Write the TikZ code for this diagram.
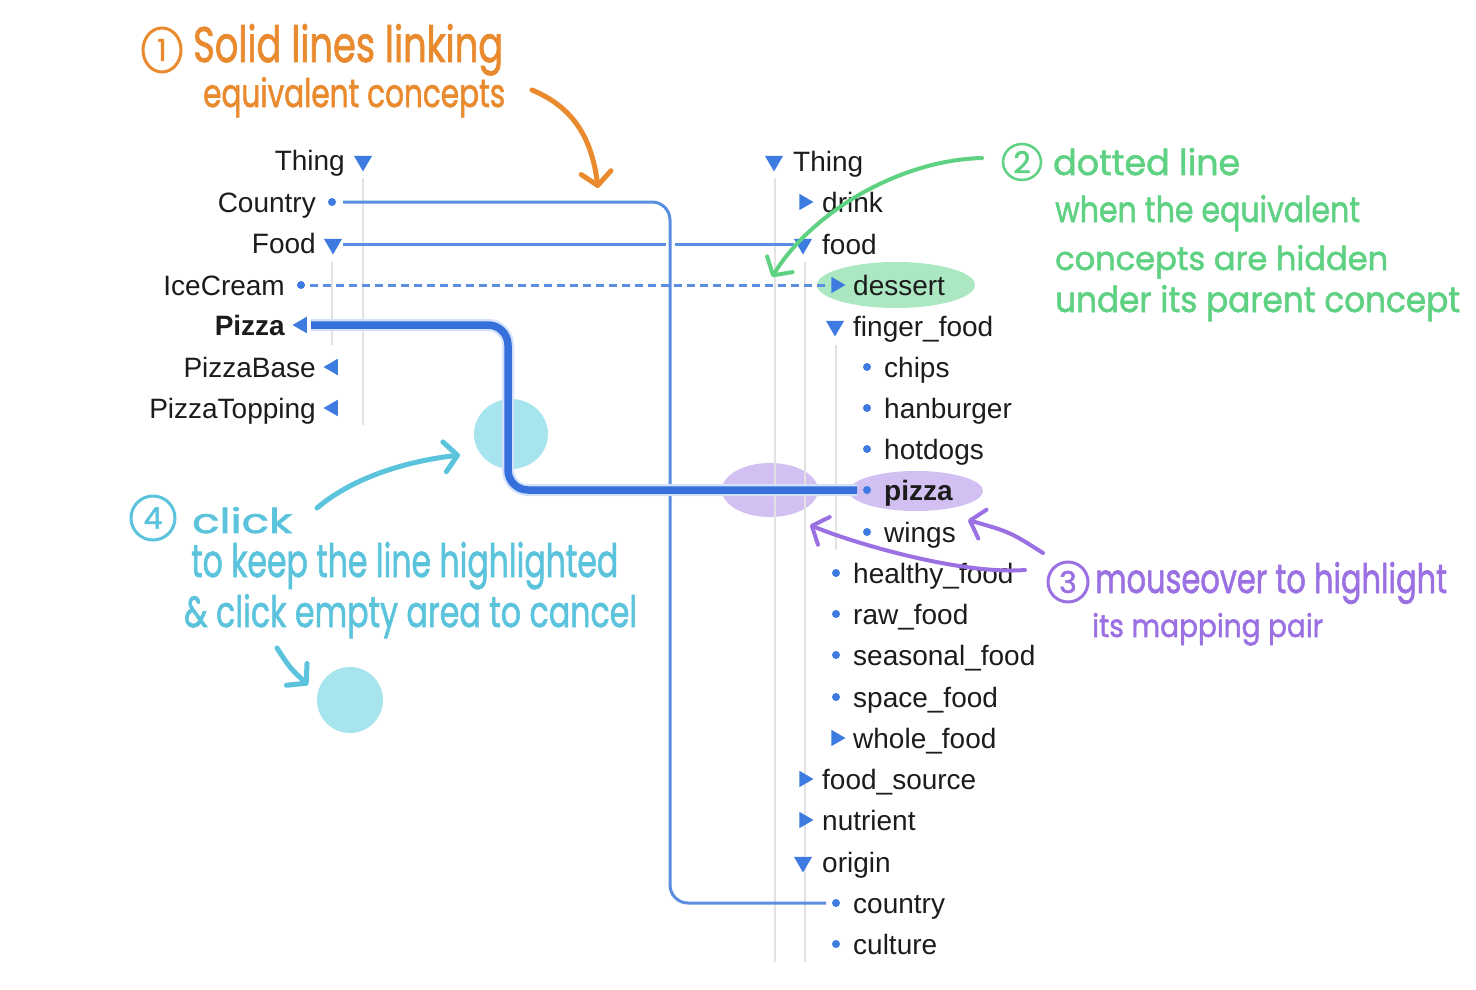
\documentclass[tikz,border=0pt]{standalone}
\usepackage{fontspec}
\setmainfont{Liberation Sans}
\newfontfamily\handfont[FakeBold=1.6]{Poppins}
\usetikzlibrary{shapes.geometric,arrows.meta,calc}
\definecolor{tblue}{HTML}{3D7BE0}
\definecolor{lblue}{HTML}{5B8DE0}
\definecolor{hblue}{HTML}{3570DD}
\definecolor{glowc}{HTML}{D3E2FA}
\definecolor{grayln}{HTML}{E2E2E2}
\definecolor{txt}{HTML}{1C1C1C}
\definecolor{orng}{HTML}{E98A2E}
\definecolor{grn}{HTML}{5FD182}
\definecolor{grnhl}{HTML}{ABE8C2}
\definecolor{purp}{HTML}{9B70E2}
\definecolor{purphl}{HTML}{D2C0F2}
\definecolor{cyn}{HTML}{5BC4DC}
\definecolor{cynhl}{HTML}{A6E5EE}
\newcommand\hw[3]{\resizebox{#1pt}{#2pt}{#3}}
\begin{document}
\begin{tikzpicture}[x=1pt,y=-1pt,
  lbl/.style={font=\fontsize{28}{30}\selectfont, text=txt, inner sep=0pt},
  lblL/.style={lbl, anchor=base east},
  lblR/.style={lbl, anchor=base west},
  dotm/.style={circle, fill=tblue, inner sep=0pt, minimum size=8pt},
  tridown/.style={regular polygon, regular polygon sides=3, shape border rotate=180, fill=tblue, inner sep=0pt, minimum size=21pt},
  triright/.style={regular polygon, regular polygon sides=3, shape border rotate=-90, fill=tblue, inner sep=0pt, minimum size=19pt},
  trileft/.style={regular polygon, regular polygon sides=3, shape border rotate=90, fill=tblue, inner sep=0pt, minimum size=19pt},
  guide/.style={draw=grayln, line width=1.5pt},
  link/.style={draw=lblue, line width=3pt},
  hilink/.style={draw=hblue, line width=7.5pt},
  glow/.style={draw=glowc, line width=12pt},
  hand/.style={font=\handfont\fontsize{30}{30}\selectfont, inner sep=0pt, anchor=base west},
  numc/.style={ellipse, inner sep=0pt, line width=3pt, font=\handfont\fontsize{30}{30}\selectfont},
  ann/.style={line width=4.5pt, line cap=round, line join=round, -{Straight Barb[length=13pt, width=30pt, round]}}
]
\useasboundingbox (0,0) rectangle (1476,990);
\fill[white] (0,0) rectangle (1476,990);

% highlights underneath
\fill[cynhl] (511,434) ellipse [x radius=37pt, y radius=35pt];
\fill[cynhl] (350,700) ellipse [x radius=33pt, y radius=33pt];
\fill[grnhl] (896,285) ellipse [x radius=79pt, y radius=23pt];
\fill[purphl] (916,491) ellipse [x radius=67pt, y radius=20pt];
\fill[purphl] (770,490) ellipse [x radius=48pt, y radius=27pt];

% tree guide lines
\draw[guide] (363,178) -- (363,425);
\draw[guide] (332,262) -- (332,345);
\draw[guide] (775,178) -- (775,962);
\draw[guide] (805,262) -- (805,962);
\draw[guide] (836,345) -- (836,550);

% left tree
\node[lblL] (tThing) at (345,170) {Thing};
\node[tridown] (mThing) at (363,161) {};
\node[lblL] (tCountry) at (316,212) {Country};
\node[dotm] (mCountry) at (332,202) {};
\node[lblL] (tFood) at (316,253) {Food};
\node[tridown] (mFood) at (333,244) {};
\node[lblL] (tIce) at (285,295) {IceCream};
\node[dotm] (mIce) at (301,285) {};
\node[lblL, font=\bfseries\fontsize{28}{30}\selectfont] (tPizza) at (285,335) {Pizza};
\node[trileft] (mPizza) at (302,325) {};
\node[lblL] (tBase) at (316,377) {PizzaBase};
\node[trileft] (mBase) at (333,367) {};
\node[lblL] (tTop) at (316,418) {PizzaTopping};
\node[trileft] (mTop) at (333,408) {};

% right tree
\foreach \n/\mk/\mx/\tx/\y/\t in {
  Thing/tridown/774/793/161/Thing,
  drink/triright/804/822/202/drink,
  food/tridown/803/822/244/food,
  dessert/triright/836/853/285/dessert,
  finger/tridown/835/853/326/finger\_food,
  chips/dotm/867/884/367/chips,
  hanburger/dotm/867/884/408/hanburger,
  hotdogs/dotm/867/884/449/hotdogs,
  wings/dotm/867/884/532/wings,
  healthy/dotm/836/853/573/healthy\_food,
  raw/dotm/836/853/614/raw\_food,
  seasonal/dotm/836/853/655/seasonal\_food,
  space/dotm/836/853/697/space\_food,
  whole/triright/836/853/738/whole\_food,
  source/triright/804/822/779/food\_source,
  nutrient/triright/804/822/820/nutrient,
  origin/tridown/803/822/862/origin,
  country/dotm/836/853/903/country,
  culture/dotm/836/853/944/culture}{
  \node[\mk] (r\n) at (\mx,\y) {};
  \node[lblR] (s\n) at (\tx,\y+10) {\t};
}
\node[dotm] (rpizza) at (867,490) {};
\node[lblR, font=\bfseries\fontsize{28}{30}\selectfont] (spizza) at (884,500) {pizza};

% mapping links
\coordinate (cv) at (670,0);
\coordinate (pv) at (508,0);
\draw[link] ([xshift=10pt]mFood.center) -- ([xshift=-9pt]rfood.center);
\draw[white, line width=9pt] (670,232) -- (670,254);
\draw[link, rounded corners=18pt] ([xshift=11pt]mCountry.center) -| (cv |- rcountry) -- ([xshift=-10pt]rcountry.center);
\draw[link, dash pattern=on 8pt off 5pt] ([xshift=9pt]mIce.center) -- ([xshift=-8pt]rdessert.center);
\draw[glow, rounded corners=20pt] ([xshift=9pt]mPizza.center) -| (pv |- rpizza) -- ([xshift=-10pt]rpizza.center);
\draw[hilink, rounded corners=20pt] ([xshift=9pt]mPizza.center) -| (pv |- rpizza) -- ([xshift=-10pt]rpizza.center);

% annotation 1 (orange)
\node[numc, draw=orng, text=orng, minimum width=38pt, minimum height=44pt] (n1) at (162,50) {1};
\node[hand, text=orng] (o1) at (193,62) {\hw{310}{38}{Solid lines linking}};
\node[hand, text=orng] (o2) at (203,107) {\hw{302}{30}{equivalent concepts}};
\coordinate (oa1) at (532,90);
\coordinate (oa2) at (598,188);
\draw[ann, orng, line width=5pt] (oa1) .. controls (575,108) and (592,140) .. (oa2);

% annotation 2 (green)
\node[numc, draw=grn, text=grn, minimum width=38pt, minimum height=36pt, line width=2.5pt] (n2) at (1022,162) {2};
\node[hand, text=grn] (g1) at (1053,175) {\hw{187}{27}{dotted line}};
\node[hand, text=grn] (g2) at (1055,222) {\hw{305}{27}{when the equivalent}};
\node[hand, text=grn] (g3) at (1055,270) {\hw{333}{25}{concepts are hidden}};
\node[hand, text=grn] (g4) at (1055,312) {\hw{405}{27}{under its parent concept}};
\coordinate (ga1) at (982,158);
\coordinate (ga2) at (772,277);
\draw[ann, grn, line width=4pt] (ga1) .. controls (900,160) and (812,212) .. (ga2);

% annotation 3 (purple)
\node[numc, draw=purp, text=purp, minimum width=40pt, minimum height=40pt] (n3) at (1068,582) {3};
\node[hand, text=purp] (p1) at (1095,593) {\hw{352}{31}{mouseover to highlight}};
\node[hand, text=purp] (p2) at (1092,637) {\hw{231}{24}{its mapping pair}};
\coordinate (pa1) at (1043,553);
\coordinate (pa2) at (968,520);
\coordinate (pb1) at (1025,570);
\coordinate (pb2) at (810,525);
\draw[ann, purp, line width=4pt] (pa1) .. controls (1010,532) .. (pa2);
\draw[ann, purp, line width=4pt] (pb1) .. controls (960,575) and (850,542) .. (pb2);

% annotation 4 (cyan)
\node[numc, draw=cyn, text=cyn, minimum width=44pt, minimum height=44pt] (n4) at (153,518) {4};
\node[hand, text=cyn] (c1) at (192,533) {\hw{100}{26}{click}};
\node[hand, text=cyn] (c2) at (191,577) {\hw{427}{35}{to keep the line highlighted}};
\node[hand, text=cyn] (c3) at (184,627) {\hw{453}{33}{\& click empty area to cancel}};
\coordinate (ca1) at (317,508);
\coordinate (ca2) at (460,455);
\coordinate (cb1) at (277,648);
\coordinate (cb2) at (308,685);
\draw[ann, cyn, line width=5pt] (ca1) .. controls (350,480) and (400,462) .. (ca2);
\draw[ann, cyn, line width=5pt] (cb1) .. controls (290,668) .. (cb2);
\end{tikzpicture}
\end{document}
